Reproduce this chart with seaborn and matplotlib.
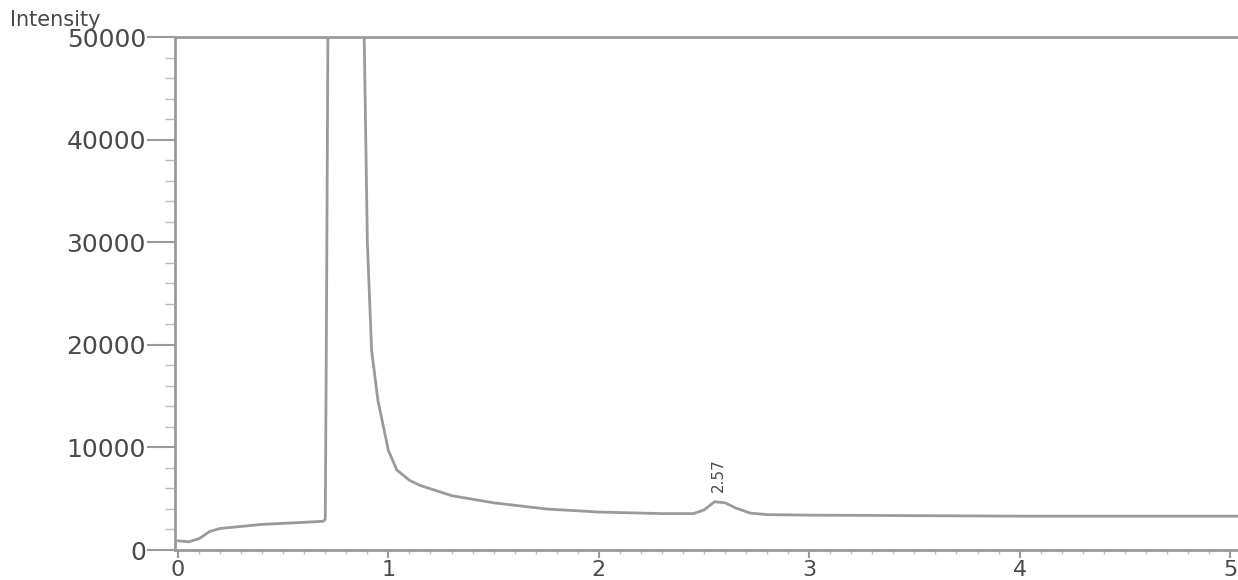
import matplotlib
matplotlib.use('Agg')
import matplotlib.pyplot as plt
from matplotlib.ticker import MultipleLocator
import pandas as pd
import seaborn as sns

# Chromatogram trace (retention time in min, intensity)
retention_time = [0.0, 0.05, 0.1, 0.15, 0.2, 0.3, 0.4, 0.5, 0.6, 0.69,
                  0.70, 0.705, 0.72, 0.80, 0.87, 0.885, 0.90, 0.92, 0.95,
                  1.0, 1.04, 1.1, 1.15, 1.3, 1.5, 1.75, 2.0, 2.3, 2.45,
                  2.50, 2.55, 2.60, 2.65, 2.72, 2.8, 3.0, 3.5, 4.0, 4.5, 5.04]
intensity = [900, 800, 1100, 1800, 2100, 2300, 2500, 2600, 2700, 2800,
             3000, 20000, 80000, 150000, 80000, 50000, 30000, 19500, 14600,
             9700, 7800, 6800, 6300, 5300, 4600, 4000, 3700, 3550, 3550,
             3900, 4700, 4600, 4100, 3600, 3450, 3400, 3350, 3300, 3300, 3300]

peak_time = 2.57
peak_height = 4800
peak_label = "2.57"

y_ticks = [0, 10000, 20000, 30000, 40000, 50000]
x_ticks = [0, 1, 2, 3, 4, 5]

sns.set_style("white", {"xtick.bottom": True, "ytick.left": True})
plt.rcParams['font.family'] = ['DejaVu Sans']

grey = "#9a9a9a"
text_grey = "#4a4a4a"

fig = plt.figure(figsize=(12.38, 5.8), dpi=100)
ax = fig.add_axes([0.1414, 0.0517, 0.8586, 0.8845])

df = pd.DataFrame({'time': retention_time, 'intensity': intensity})
sns.lineplot(data=df, x='time', y='intensity', ax=ax, color=grey,
             linewidth=2.0, estimator=None, sort=False)

ax.set_xlim(-0.014, 5.038)
ax.set_ylim(0, 50000)
ax.set_xticks(x_ticks)
ax.set_yticks(y_ticks)
ax.xaxis.set_minor_locator(MultipleLocator(0.1))
ax.yaxis.set_minor_locator(MultipleLocator(2000))
ax.set_xlabel("")
ax.set_ylabel("")

ax.tick_params(axis='y', which='both', left=True, direction='out')
ax.tick_params(axis='x', which='both', bottom=True, direction='out')
ax.tick_params(axis='y', which='major', length=20, width=1.5, color=grey,
               labelsize=18, labelcolor=text_grey, pad=1)
ax.tick_params(axis='y', which='minor', length=7, width=1, color="#bbbbbb")
ax.tick_params(axis='x', which='major', length=6, width=1.5, color=grey,
               labelsize=16, labelcolor=text_grey, pad=1)
ax.tick_params(axis='x', which='minor', length=3, width=1, color="#bbbbbb")

for side in ['left', 'bottom', 'top']:
    ax.spines[side].set_color(grey)
    ax.spines[side].set_linewidth(2)
ax.spines['right'].set_visible(False)

# retention time label on the small peak
ax.annotate(peak_label, xy=(peak_time, peak_height), xytext=(0, 6),
            textcoords='offset points', rotation=90, ha='center', va='bottom',
            fontsize=11, color=text_grey)

fig.text(0.008, 0.965, "Intensity", fontsize=15, color=text_grey,
         ha='left', va='center')

fig.savefig("out.png", dpi=100)
